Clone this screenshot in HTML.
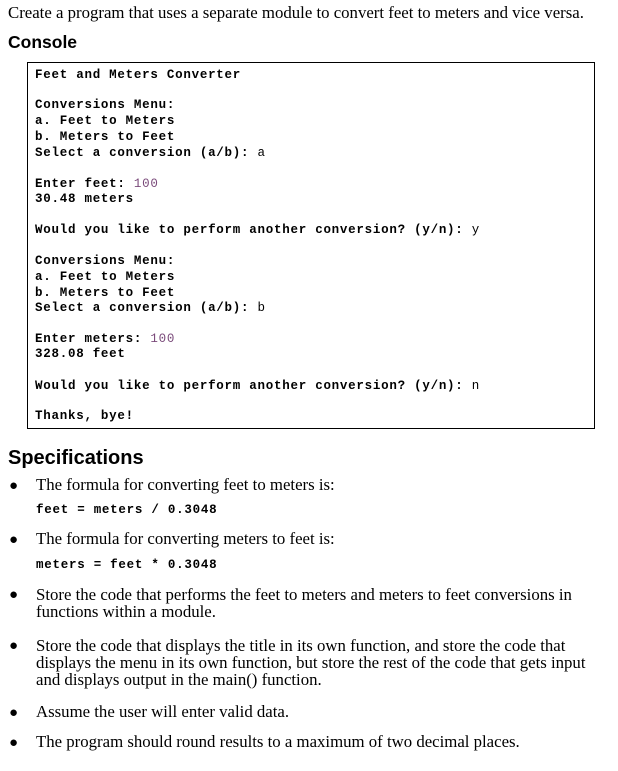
<!DOCTYPE html>
<html><head><meta charset="utf-8"><style>
body{margin:0;width:618px;height:771px;background:#fff;position:relative;overflow:hidden;color:#000}
.a{position:absolute;white-space:nowrap;line-height:16px}
.s{font-family:"Liberation Serif",serif;font-size:16.8px}
.m{font-family:"Liberation Mono",monospace;font-size:12.5px;font-weight:bold;letter-spacing:0.74px}
.m i{font-style:normal;font-weight:normal}
.m .p{color:#7a4a7a}
.h{font-family:"Liberation Sans",sans-serif;font-weight:bold}
.b{position:absolute;left:9px;font-size:15px;font-family:"Liberation Sans",sans-serif}
</style></head><body>
<div class="a s" style="left:8px;top:5px">Create a program that uses a separate module to convert feet to meters and vice versa.</div>
<div class="a h" style="left:8px;top:32px;font-size:17.5px;line-height:20px">Console</div>
<div style="position:absolute;left:27px;top:62px;width:566px;height:365px;border:1px solid #000"></div>
<div class="a m" style="left:35px;top:67px">Feet and Meters Converter</div>
<div class="a m" style="left:35px;top:97px">Conversions Menu:</div>
<div class="a m" style="left:35px;top:113px">a. Feet to Meters</div>
<div class="a m" style="left:35px;top:129px">b. Meters to Feet</div>
<div class="a m" style="left:35px;top:145px">Select a conversion (a/b): <i>a</i></div>
<div class="a m" style="left:35px;top:176px">Enter feet: <i class="p">100</i></div>
<div class="a m" style="left:35px;top:191px">30.48 meters</div>
<div class="a m" style="left:35px;top:222px">Would you like to perform another conversion? (y/n): <i>y</i></div>
<div class="a m" style="left:35px;top:253px">Conversions Menu:</div>
<div class="a m" style="left:35px;top:269px">a. Feet to Meters</div>
<div class="a m" style="left:35px;top:285px">b. Meters to Feet</div>
<div class="a m" style="left:35px;top:300px">Select a conversion (a/b): <i>b</i></div>
<div class="a m" style="left:35px;top:331px">Enter meters: <i class="p">100</i></div>
<div class="a m" style="left:35px;top:346px">328.08 feet</div>
<div class="a m" style="left:35px;top:378px">Would you like to perform another conversion? (y/n): <i>n</i></div>
<div class="a m" style="left:35px;top:408px">Thanks, bye!</div>
<div class="a h" style="left:8px;top:446px;font-size:20px;line-height:24px">Specifications</div>
<div class="b" style="top:477px">●</div>
<div class="a s" style="left:36px;top:477px">The formula for converting feet to meters is:</div>
<div class="a m" style="left:36px;top:502px">feet = meters / 0.3048</div>
<div class="b" style="top:531px">●</div>
<div class="a s" style="left:36px;top:531px">The formula for converting meters to feet is:</div>
<div class="a m" style="left:36px;top:557px">meters = feet * 0.3048</div>
<div class="b" style="top:586px">●</div>
<div class="a s" style="left:36px;top:586px;line-height:17px">Store the code that performs the feet to meters and meters to feet conversions in<br>functions within a module.</div>
<div class="b" style="top:637px">●</div>
<div class="a s" style="left:36px;top:637px;line-height:17px">Store the code that displays the title in its own function, and store the code that<br>displays the menu in its own function, but store the rest of the code that gets input<br>and displays output in the main() function.</div>
<div class="b" style="top:704px">●</div>
<div class="a s" style="left:36px;top:704px">Assume the user will enter valid data.</div>
<div class="b" style="top:734px">●</div>
<div class="a s" style="left:36px;top:734px">The program should round results to a maximum of two decimal places.</div>
</body></html>
